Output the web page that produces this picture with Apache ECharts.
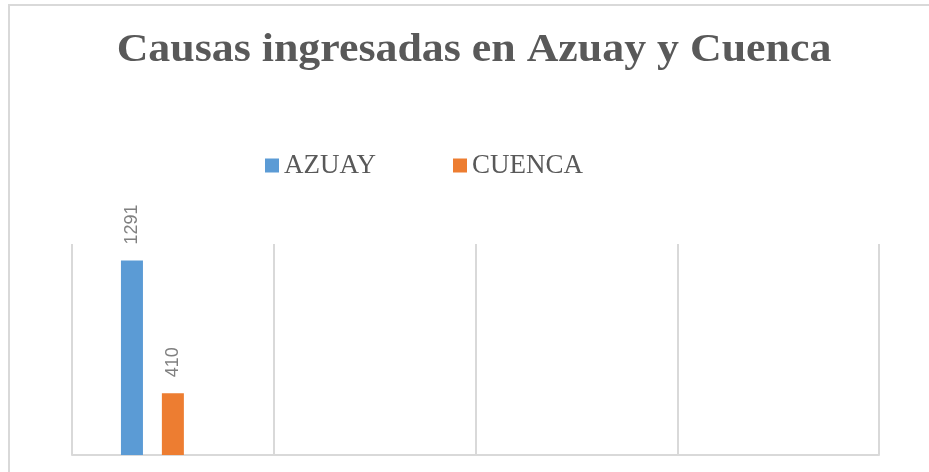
<!DOCTYPE html>
<html><head><meta charset="utf-8">
<script src="https://cdn.jsdelivr.net/npm/echarts@6/dist/echarts.min.js"></script>
<style>html,body{margin:0;padding:0;background:#fff}#c{width:929px;height:472px}</style>
</head><body><div id="c"></div>
<script>
var titleText = 'Causas ingresadas en Azuay y Cuenca';
var categories = ['1', '2', '3', '4'];
var seriesNames = ['AZUAY', 'CUENCA'];
var azuay = [1291, null, null, null];
var cuenca = [410, null, null, null];
var third = [null, null, null, null];

var chart = echarts.init(document.getElementById('c'), null, {renderer: 'canvas'});
var labelCfg = {show: true, position: 'top', rotate: 90, align: 'left', verticalAlign: 'middle', distance: 16,
  color: '#808080', fontFamily: 'Liberation Sans, Arial', fontSize: 18};
chart.setOption({
  animation: false,
  backgroundColor: '#fff',
  graphic: [
    {type: 'rect', shape: {x: 9, y: 5, width: 940, height: 490}, style: {fill: 'none', stroke: '#d9d9d9', lineWidth: 2}, silent: true},
    {type: 'text', x: 474, y: 31, scaleX: 1.125, scaleY: 1,
     style: {text: titleText, font: 'bold 39px "Liberation Serif"', fill: '#595959', textAlign: 'center', textVerticalAlign: 'top'}}
  ],
  legend: {
    data: seriesNames, top: 152, left: 265, padding: 0, itemWidth: 14, itemHeight: 14, itemGap: 77,
    icon: 'rect',
    textStyle: {fontFamily: 'Liberation Serif', fontSize: 27, color: '#595959'}
  },
  grid: {left: 72, right: 50, top: 244, bottom: 17, containLabel: false},
  xAxis: {
    type: 'category', data: categories, boundaryGap: true,
    axisLine: {show: true, lineStyle: {color: '#d9d9d9', width: 2}},
    axisTick: {show: false}, axisLabel: {show: false},
    splitLine: {show: true, lineStyle: {color: '#d9d9d9', width: 2}}
  },
  yAxis: {type: 'value', min: 0, max: 1400, interval: 200, show: false, splitLine: {show: false}},
  series: [
    {name: 'AZUAY', type: 'bar', data: azuay, barWidth: 22, barGap: '86%', itemStyle: {color: '#5b9bd5'}, label: labelCfg},
    {name: 'CUENCA', type: 'bar', data: cuenca, barWidth: 22, barGap: '86%', itemStyle: {color: '#ed7d31'}, label: labelCfg},
    {name: 'x', type: 'bar', data: third, barWidth: 22, barGap: '86%', itemStyle: {color: '#a5a5a5'}}
  ]
});
</script></body></html>
